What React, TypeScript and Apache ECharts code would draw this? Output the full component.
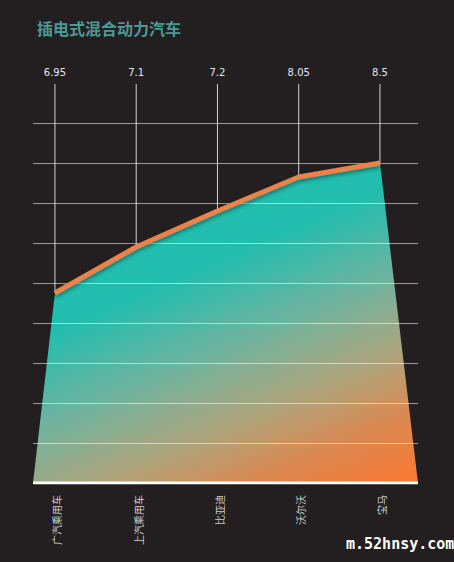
import React, { useEffect, useRef } from "react";
import * as echarts from "echarts";

const title = "插电式混合动力汽车";
const categories = ["广汽乘用车", "上汽乘用车", "比亚迪", "沃尔沃", "宝马"];
const valueLabels = ["6.95", "7.1", "7.2", "8.05", "8.5"];
// plotted heights in grid units
const heights = [4.75, 5.9, 6.8, 7.65, 8.0];
const edgeLeft = -0.27;
const edgeRight = 4.468;
const watermark = "m.52hnsy.com";

export default function App() {
  const ref = useRef<HTMLDivElement>(null);
  useEffect(() => {
    document.body.style.margin = "0";
    document.body.style.background = "#231f20";
    const chart = echarts.init(ref.current!, null, { renderer: "svg" });
    const pts = heights.map((h, i) => [i, h]);
    const areaData = [[edgeLeft, 0], ...pts, [edgeRight, 0]];
    chart.setOption({
      animation: false,
      backgroundColor: "#231f20",
      title: {
        text: title,
        left: 32,
        top: 15,
        textStyle: {
          color: "#4a9a95",
          fontSize: 16,
          fontWeight: "bold",
          fontFamily: "Noto Sans CJK SC",
        },
      },
      graphic: [
        {
          type: "text",
          left: 346,
          top: 536,
          style: {
            text: watermark,
            fill: "#ffffff",
            font: "bold 15px 'DejaVu Sans Mono'",
          },
        },
      ],
      grid: { left: 33, right: 36, top: 123, bottom: 79 },
      xAxis: {
        type: "value",
        min: edgeLeft,
        max: edgeRight,
        show: false,
      },
      yAxis: {
        type: "value",
        min: 0,
        max: 9,
        interval: 1,
        z: 3,
        axisLabel: { show: false },
        axisTick: { show: false },
        axisLine: { show: false },
        splitLine: {
          show: true,
          lineStyle: { color: "rgba(255,255,255,0.55)", width: 1 },
        },
      },
      series: [
        {
          type: "line",
          data: areaData,
          symbol: "none",
          z: 1,
          lineStyle: { width: 0 },
          areaStyle: {
            opacity: 1,
            color: new echarts.graphic.LinearGradient(0, 0, 0.61, 1.18, [
              { offset: 0, color: "#1fbfb1" },
              { offset: 0.37, color: "#22bdae" },
              { offset: 0.55, color: "#6cb4a0" },
              { offset: 0.72, color: "#aca57d" },
              { offset: 0.86, color: "#da8952" },
              { offset: 1, color: "#fa7934" },
            ]),
          },
        },
        {
          type: "custom",
          z: 4,
          clip: false,
          data: pts,
          renderItem: (params: any, api: any) => {
            const i = params.dataIndex;
            const p = api.coord([api.value(0), api.value(1)]);
            const base = api.coord([api.value(0), 0]);
            return {
              type: "group",
              children: [
                {
                  type: "line",
                  shape: { x1: p[0], y1: 84, x2: p[0], y2: p[1] },
                  style: { stroke: "rgba(255,255,255,0.8)", lineWidth: 1 },
                },
                {
                  type: "text",
                  x: p[0],
                  y: 72,
                  style: {
                    text: valueLabels[i],
                    fill: "#e6e6e6",
                    font: "10px 'DejaVu Sans'",
                    align: "center",
                    verticalAlign: "middle",
                  },
                },
                {
                  type: "text",
                  x: p[0] + 2,
                  y: base[1] + 12,
                  rotation: Math.PI / 2,
                  style: {
                    text: categories[i],
                    fill: "#cfcfcf",
                    font: "10px 'Noto Sans CJK SC'",
                    align: "right",
                    verticalAlign: "middle",
                  },
                },
              ],
            };
          },
        },
        {
          type: "line",
          data: pts,
          symbol: "none",
          z: 5,
          lineStyle: {
            color: "#ea824a",
            width: 5,
            shadowColor: "rgba(0,0,0,0.45)",
            shadowBlur: 4,
            shadowOffsetY: 2,
          },
        },
        {
          type: "line",
          data: [
            [edgeLeft, 0],
            [edgeRight, 0],
          ],
          symbol: "none",
          z: 6,
          lineStyle: { color: "#ffffff", width: 3 },
        },
      ],
    });
    return () => chart.dispose();
  }, []);
  return <div ref={ref} style={{ width: 454, height: 562 }} />;
}
